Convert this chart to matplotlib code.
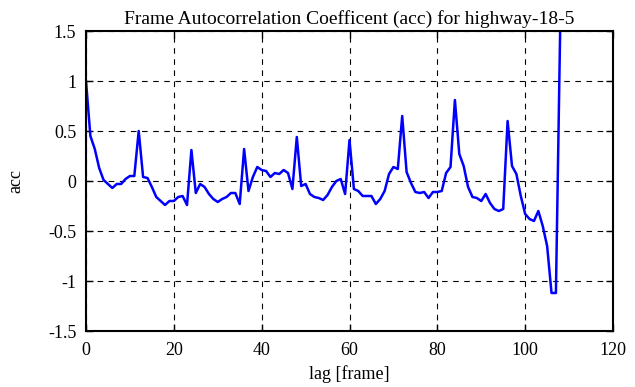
import matplotlib
matplotlib.use("Agg")
import matplotlib.pyplot as plt
import numpy as np

lags = list(range(0, 109))
acc = [1.0, 0.45, 0.32, 0.13, 0.01, -0.03, -0.07, -0.03, -0.03, 0.02,
       0.05, 0.05, 0.50, 0.04, 0.03, -0.06, -0.16, -0.20, -0.24, -0.20,
       -0.20, -0.16, -0.15, -0.24, 0.31, -0.12, -0.03, -0.06, -0.13, -0.18,
       -0.21, -0.18, -0.16, -0.12, -0.12, -0.23, 0.32, -0.10, 0.04, 0.14,
       0.11, 0.10, 0.04, 0.08, 0.07, 0.11, 0.08, -0.08, 0.44, -0.05,
       -0.03, -0.13, -0.16, -0.17, -0.19, -0.14, -0.06, 0.00, 0.02, -0.13,
       0.41, -0.08, -0.10, -0.15, -0.15, -0.15, -0.23, -0.18, -0.10, 0.07,
       0.14, 0.12, 0.65, 0.09, -0.02, -0.11, -0.12, -0.11, -0.17, -0.11,
       -0.11, -0.10, 0.08, 0.14, 0.81, 0.27, 0.15, -0.06, -0.16, -0.17,
       -0.20, -0.13, -0.22, -0.28, -0.30, -0.28, 0.60, 0.15, 0.07, -0.15,
       -0.33, -0.38, -0.40, -0.30, -0.45, -0.65, -1.12, -1.12, 1.60]

xticks = [0, 20, 40, 60, 80, 100, 120]
yticks = [-1.5, -1, -0.5, 0, 0.5, 1, 1.5]
ytick_labels = ["-1.5", "-1", "-0.5", "0", "0.5", "1", "1.5"]

plt.rcParams['font.family'] = ['Liberation Serif', 'DejaVu Serif']

fig = plt.figure(figsize=(6.35, 3.87), dpi=100)
ax = fig.add_axes([86/635, 1-331/387, (613-86)/635, 300/387])
ax.plot(lags, acc, color='#0000ff', linewidth=1.8, clip_on=True)
ax.set_xlim(0, 120)
ax.set_ylim(-1.5, 1.5)
ax.set_xticks(xticks)
ax.set_xticklabels([str(t) for t in xticks])
ax.set_yticks(yticks)
ax.set_yticklabels(ytick_labels)
ax.grid(True, color='black', linestyle=(0, (5, 5)), linewidth=0.8)
ax.tick_params(direction='in', top=True, right=True, labelsize=13, length=5, width=1)
ax.tick_params(axis='x', pad=8)
ax.tick_params(axis='y', pad=7)
for s in ax.spines.values():
    s.set_linewidth(1.5)
ax.set_xlabel('lag [frame]', fontsize=13, labelpad=4)
ax.set_ylabel('acc', fontsize=13, labelpad=17)
ax.set_title('Frame Autocorrelation Coefficent (acc) for highway-18-5', fontsize=14, pad=5)
fig.savefig('out.png', dpi=100)
